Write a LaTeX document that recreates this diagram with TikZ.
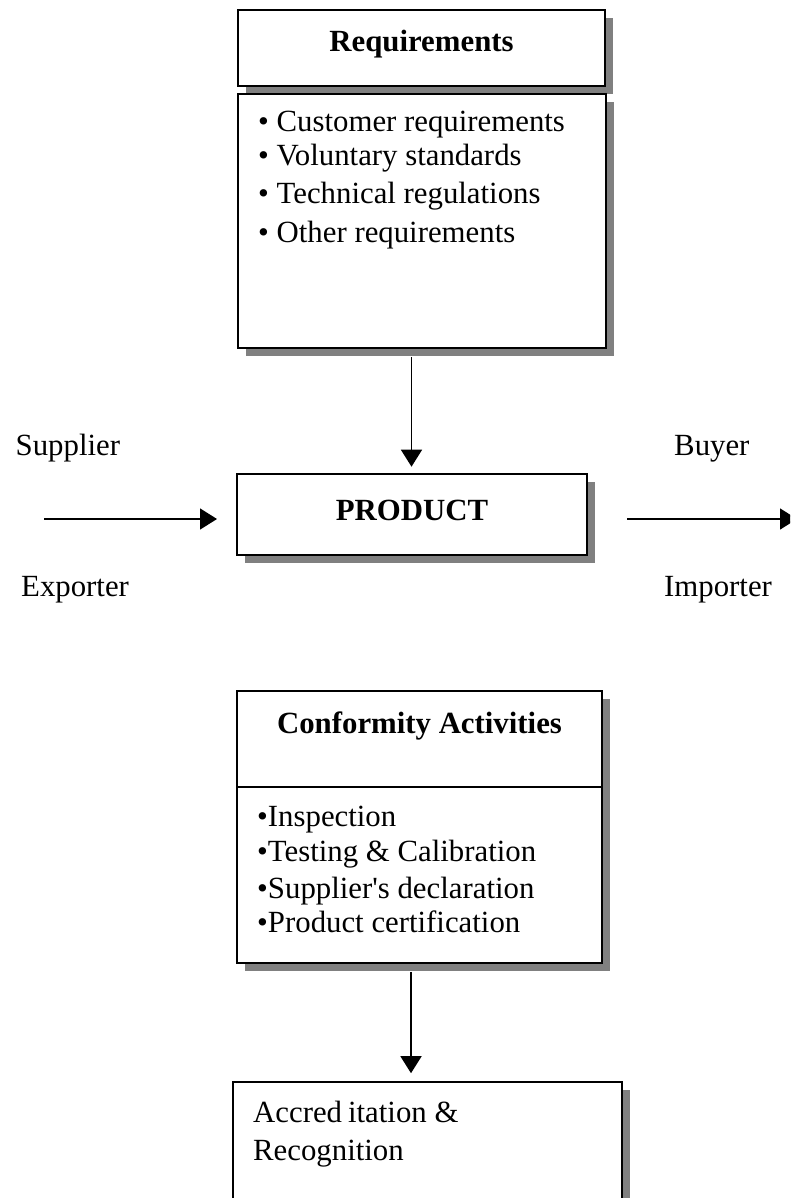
\documentclass[tikz,border=0pt]{standalone}
\usepackage{fontspec}
\setmainfont{Liberation Serif}
% same face without the TeX quote mapping, for a straight apostrophe
\newfontfamily\straightserif{Liberation Serif}
\usetikzlibrary{arrows.meta,shadows,calc}
\definecolor{shadowgray}{HTML}{808080}
\begin{document}
\begin{tikzpicture}[x=1pt,y=-1pt,
  box/.style={draw=black, line width=1.6pt, fill=white, rectangle, inner sep=0pt,
    general shadow={fill=shadowgray, shadow xshift=8pt, shadow yshift=-8pt}},
  lbl/.style={inner sep=0pt, font=\fontsize{30.8pt}{36pt}\selectfont},
  arr/.style={line width=1.5pt, -{Triangle[length=17pt,width=21pt]}},
  divline/.style={line width=1.6pt}
]
\useasboundingbox (0,0) rectangle (790,1198);
\clip (0,0) rectangle (790,1198);

% Requirements: header box and list box
\node[box, minimum width=367pt, minimum height=76pt] (reqhead) at (421.5,48) {};
\node[box, minimum width=368pt, minimum height=254pt] (reqbody) at (422,221) {};
\node[lbl, anchor=base] (reqtitle) at (reqhead.center |- 0,51.7) {\bfseries Requirements};
\node[lbl, anchor=base west] (req1) at (258,131.7) {• Customer requirements};
\node[lbl, anchor=base west] (req2) at (258,165.7) {• Voluntary standards};
\node[lbl, anchor=base west] (req3) at (258,203.3) {• Technical regulations};
\node[lbl, anchor=base west] (req4) at (258,242.7) {• Other requirements};

% Product in the middle of the trade flow
\node[box, minimum width=350pt, minimum height=81pt] (product) at (412,514.5) {};
\node[lbl, anchor=base] (prodtext) at (product.center |- 0,520.7) {\bfseries PRODUCT};

% Trade partners
\node[lbl, anchor=base west] (supplier) at (15.5,455) {Supplier};
\node[lbl, anchor=base west] (exporter) at (21,596.7) {Exporter};
\node[lbl, anchor=base west] (buyer) at (674,455) {Buyer};
\node[lbl, anchor=base west] (importer) at (664,596.7) {Importer};

\coordinate (inflowA) at (44,519);
\coordinate (inflowB) at (217,519);
\coordinate (outflowA) at (627,519);
\coordinate (outflowB) at (797,519);
\draw[arr] (inflowA) -- (inflowB);
\draw[arr] (outflowA) -- (outflowB);

% Requirements feed the product
\coordinate (reqout) at ($(product.north |- reqbody.south)+(-0.5,8.5)$);
\draw[arr, shorten >=6.5pt] (reqout) -- (reqout |- product.north);

% Conformity activities
\node[box, minimum width=365pt, minimum height=272pt] (conf) at (419.5,827) {};
\coordinate (confdiv) at (419.5,787);
\draw[divline] (conf.west |- confdiv) -- (conf.east |- confdiv);
\node[lbl, anchor=base] (conftitle) at (conf.center |- 0,733.3) {\bfseries Conformity Activities};
\node[lbl, anchor=base west] (conf1) at (257,826.7) {•Inspection};
\node[lbl, anchor=base west] (conf2) at (257,861.7) {•Testing \& Calibration};
\node[lbl, anchor=base west] (conf3) at (257,898.3) {\straightserif •Supplier's declaration};
\node[lbl, anchor=base west] (conf4) at (257,932.7) {•Product certification};

% Accreditation
\node[box, minimum width=389pt, minimum height=116.5pt] (accr) at (427.5,1140.25) {};
\node[lbl, anchor=base west] (accr1) at (253,1122) {Accred\hspace{6pt}itation \&};
\node[lbl, anchor=base west] (accr2) at (253,1160) {Recognition};

\coordinate (confout) at ($(conf.south)+(-8.5,8)$);
\draw[arr, shorten >=8pt] (confout) -- (confout |- accr.north);
\end{tikzpicture}
\end{document}
